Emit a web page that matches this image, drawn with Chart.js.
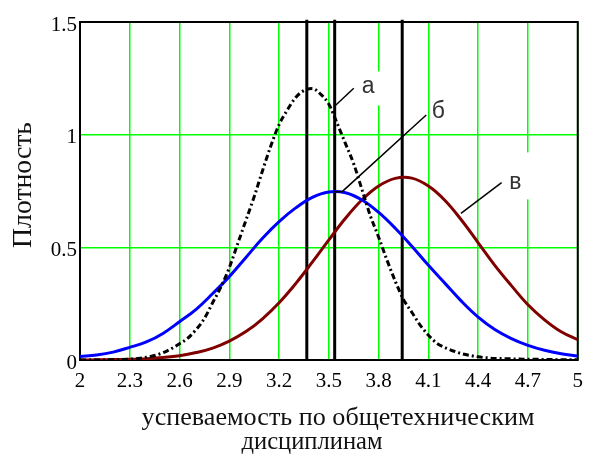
<!DOCTYPE html>
<html>
<head>
<meta charset="utf-8">
<script src="https://cdn.jsdelivr.net/npm/chart.js@4/dist/chart.umd.min.js"></script>
<style>
html,body{margin:0;padding:0;background:#fff;}
canvas{display:block;}
</style>
</head>
<body>
<canvas id="c" width="592" height="457"></canvas>
<script>
// ---- data ----
const xFine = [2.00,2.05,2.10,2.15,2.20,2.25,2.30,2.35,2.40,2.45,2.50,2.55,2.60,2.65,2.70,2.75,2.80,2.85,2.90,2.95,
  3.00,3.05,3.10,3.15,3.20,3.25,3.30,3.35,3.40,3.45,3.50,3.55,3.60,3.65,3.70,3.75,3.80,3.85,3.90,3.95,
  4.00,4.05,4.10,4.15,4.20,4.25,4.30,4.35,4.40,4.45,4.50,4.55,4.60,4.65,4.70,4.75,4.80,4.85,4.90,4.95,5.00];
const curveA = [0.000,0.000,0.000,0.000,0.001,0.002,0.004,0.007,0.012,0.020,0.032,0.050,0.072,0.097,0.135,0.185,0.255,0.325,0.410,0.515,
  0.620,0.725,0.840,0.950,1.045,1.110,1.165,1.196,1.205,1.180,1.135,1.050,0.960,0.870,0.755,0.640,0.545,0.444,0.350,0.268,
  0.212,0.155,0.110,0.075,0.055,0.040,0.028,0.020,0.014,0.010,0.007,0.006,0.005,0.004,0.003,0.003,0.002,0.002,0.001,0.001,0.001];
const xCoarse = [2.0,2.1,2.2,2.3,2.4,2.5,2.6,2.7,2.8,2.9,3.0,3.1,3.2,3.3,3.4,3.5,3.6,3.7,3.8,3.9,4.0,4.1,4.2,4.3,4.4,4.5,4.6,4.7,4.8,4.9,5.0];
const curveB = [0.015,0.022,0.035,0.056,0.080,0.118,0.170,0.225,0.295,0.370,0.455,0.540,0.614,0.675,0.722,0.746,0.742,0.710,0.655,0.585,
  0.505,0.420,0.340,0.260,0.190,0.135,0.095,0.065,0.043,0.028,0.018];
const curveV = [0.000,0.001,0.002,0.003,0.006,0.011,0.019,0.033,0.053,0.084,0.126,0.183,0.254,0.339,0.434,0.533,0.629,0.711,0.772,0.806,
  0.807,0.772,0.708,0.620,0.520,0.420,0.330,0.245,0.178,0.125,0.090];
const meanLines = [3.367, 3.535, 3.942];
const xTicks = [2, 2.3, 2.6, 2.9, 3.2, 3.5, 3.8, 4.1, 4.4, 4.7, 5];
const yTicks = [0, 0.5, 1, 1.5];
const labelNames = ['а', 'б', 'в'];
// leader lines (data coords) and label anchors (data coords)
const leaderA = [[3.531, 1.124], [3.650, 1.206]];
const leaderB = [[3.531, 0.747], [3.580, 0.747], [4.087, 1.087]];
const leaderV = [[4.296, 0.651], [4.541, 0.787]];
const labelAt = [[3.736, 1.212], [4.159, 1.101], [4.624, 0.786]];
const xTitleLines = ['успеваемость по общетехническим', 'дисциплинам'];
const yTitle = 'Плотность';

// ---- build datasets ----
const pts = (xs, ys) => xs.map((x, i) => ({x: x, y: ys[i]}));
const pairs = (arr) => arr.map(p => ({x: p[0], y: p[1]}));
const datasets = [];
meanLines.forEach(m => datasets.push({
  data: [{x: m, y: 0}, {x: m, y: 1.51}], borderColor: '#000', borderWidth: 3,
  pointRadius: 0, clip: false, tension: 0, order: 5
}));
datasets.push({data: pts(xCoarse, curveB), borderColor: '#0000ff', borderWidth: 3, pointRadius: 0, tension: 0.4, order: 3});
datasets.push({data: pts(xCoarse, curveV), borderColor: '#800000', borderWidth: 3, pointRadius: 0, tension: 0.4, order: 3});
datasets.push({data: pts(xFine, curveA), borderColor: '#000', borderWidth: 3, borderDash: [6, 3, 2, 3], pointRadius: 0, tension: 0.3, cubicInterpolationMode: 'monotone', order: 2});
[leaderA, leaderB, leaderV].forEach(l => datasets.push({
  data: pairs(l), borderColor: '#000', borderWidth: 1.5, pointRadius: 0, tension: 0, order: 1
}));

const SERIF = '"Liberation Serif", "Times New Roman", serif';
function fitText(ctx, text, width, family) {
  ctx.font = '20px ' + family;
  const s = 20 * width / ctx.measureText(text).width;
  ctx.font = s.toFixed(2) + 'px ' + family;
}

const deco = {
  id: 'deco',
  beforeDatasetsDraw(chart) {
    const {ctx, chartArea: a, scales: {x, y}} = chart;
    ctx.save();
    ctx.fillStyle = '#fff';
    const boxes = [[0, 26, 34, 1.5], [2, 28, 47, -7]];
    boxes.forEach(b => {
      const px = x.getPixelForValue(labelAt[b[0]][0]);
      const py = y.getPixelForValue(labelAt[b[0]][1]) + b[3];
      ctx.fillRect(px - b[1] / 2, py - b[2] / 2, b[1], b[2]);
    });
    ctx.strokeStyle = '#000';
    ctx.lineWidth = 2;
    ctx.strokeRect(a.left, a.top, a.right - a.left, a.bottom - a.top);
    ctx.restore();
  },
  afterDraw(chart) {
    const {ctx, chartArea: a, scales: {x, y}} = chart;
    ctx.save();
    ctx.fillStyle = '#333';
    ctx.font = '23px "Liberation Sans", Arial, sans-serif';
    ctx.textAlign = 'center';
    ctx.textBaseline = 'middle';
    labelNames.forEach((t, i) => {
      ctx.fillText(t, x.getPixelForValue(labelAt[i][0]), y.getPixelForValue(labelAt[i][1]));
    });
    ctx.fillStyle = '#111';
    ctx.textBaseline = 'alphabetic';
    fitText(ctx, xTitleLines[0], 393, SERIF);
    ctx.fillText(xTitleLines[0], a.left + 258, a.bottom + 65);
    fitText(ctx, xTitleLines[1], 141, SERIF);
    ctx.fillText(xTitleLines[1], a.left + 232, a.bottom + 89);
    ctx.translate(24, a.top + 163);
    ctx.rotate(-Math.PI / 2);
    fitText(ctx, yTitle, 126, SERIF);
    ctx.textBaseline = 'middle';
    ctx.fillText(yTitle, 0, 0);
    ctx.restore();
  }
};

new Chart(document.getElementById('c'), {
  type: 'line',
  data: {datasets: datasets},
  options: {
    responsive: false,
    animation: false,
    layout: {padding: {left: 0, top: 22, right: 9, bottom: 0}},
    plugins: {legend: {display: false}, tooltip: {enabled: false}},
    scales: {
      x: {
        type: 'linear', min: 2, max: 5,
        afterBuildTicks: s => { s.ticks = xTicks.map(v => ({value: v})); },
        afterFit: s => { s.height = 97; },
        grid: {color: '#00ff00', lineWidth: 1.5, drawTicks: false},
        border: {display: false},
        ticks: {color: '#000', padding: 9, maxRotation: 0, autoSkip: false,
          font: {family: SERIF, size: 21},
          callback: v => String(v)}
      },
      y: {
        type: 'linear', min: 0, max: 1.5,
        afterBuildTicks: s => { s.ticks = yTicks.map(v => ({value: v})); },
        afterFit: s => { s.width = 80; },
        grid: {color: '#00ff00', lineWidth: 1.5, drawTicks: false},
        border: {display: false},
        ticks: {color: '#000', padding: 3, labelOffset: 3,
          font: {family: SERIF, size: 21},
          callback: v => String(v)}
      }
    }
  },
  plugins: [deco]
});
</script>
</body>
</html>
